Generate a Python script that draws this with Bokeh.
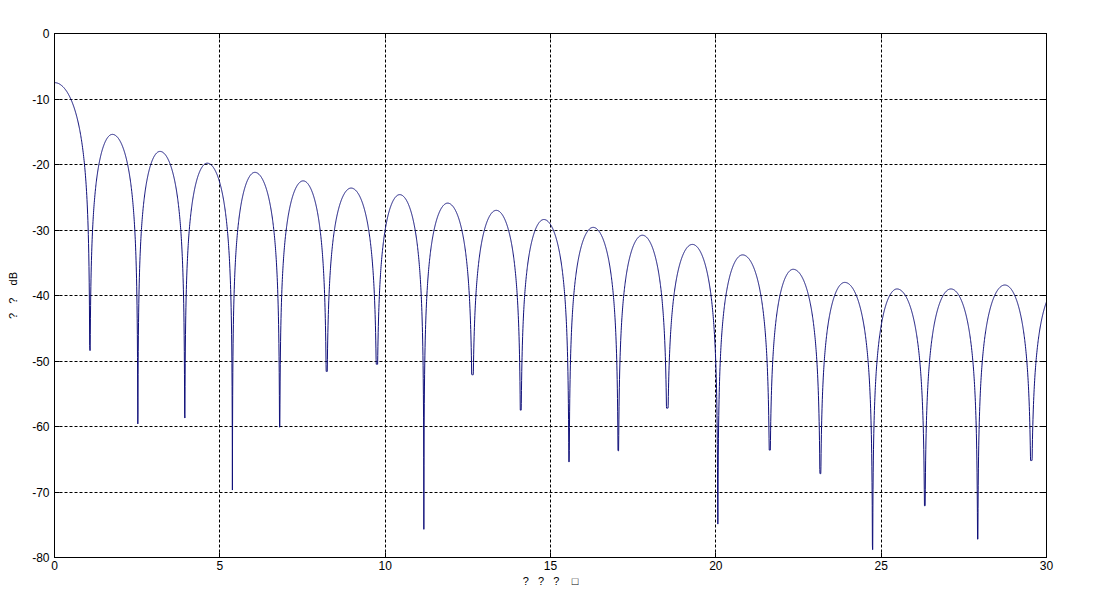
import numpy as np
from bokeh.plotting import figure
from bokeh.models import LinearAxis, Range1d, FixedTicker, ColumnDataSource
from bokeh.embed import file_html
from bokeh.resources import INLINE

# ---- data ----
start_x = 0.0
start_db = -7.5
null_x = [1.07, 2.52, 3.94, 5.38, 6.81, 8.23, 9.75, 11.17, 12.64, 14.10,
          15.56, 17.05, 18.53, 20.06, 21.63, 23.16, 24.74, 26.32, 27.92, 29.54, 31.16]
null_db = [-48.4, -59.6, -58.7, -69.7, -60.1, -51.6, -50.5, -75.7, -52.1, -57.5,
           -65.4, -63.7, -57.2, -74.9, -63.6, -67.2, -78.8, -72.1, -77.2, -65.2, -60.0]
peak_x = [1.75, 3.19, 4.62, 6.06, 7.52, 8.97, 10.44, 11.89, 13.36, 14.80,
          16.29, 17.78, 19.29, 20.81, 22.34, 23.90, 25.48, 27.11, 28.74, 30.35]
peak_db = [-15.4, -18.0, -19.8, -21.2, -22.5, -23.6, -24.6, -25.9, -27.0, -28.4,
           -29.6, -30.8, -32.2, -33.8, -36.0, -38.0, -39.0, -39.0, -38.4, -38.8]
x_ticks = [0, 5, 10, 15, 20, 25, 30]
y_ticks = [-80, -70, -60, -50, -40, -30, -20, -10, 0]
NB = "\u00a0"
x_label = "?" + NB * 3 + "?" + NB * 3 + "?" + NB * 4 + "\u25a1"
y_label = "?" + NB * 3 + "?" + NB * 4 + "dB"

# ---- build the trace: each lobe spans null -> peak -> null ----
N = 160
xs, ys = [], []

def half(a, b, t0, t1, pk, floor):
    xx = np.linspace(a, b, N)
    t = t0 + (t1 - t0) * (xx - a) / (b - a)
    s = np.abs(np.sin(np.pi * t))
    with np.errstate(divide="ignore"):
        yy = pk + 20 * np.log10(s)
    yy = np.maximum(yy, floor)
    return xx, yy

# main lobe (peak at x=0) down to first null
xx, yy = half(start_x, null_x[0], 0.5, 1.0, start_db, null_db[0])
xs.append(xx); ys.append(yy)
for i in range(len(peak_x)):
    a, b = null_x[i], null_x[i + 1]
    p = peak_x[i]
    xx, yy = half(a, p, 0.0, 0.5, peak_db[i], null_db[i])
    xs.append(xx[1:]); ys.append(yy[1:])
    xx, yy = half(p, b, 0.5, 1.0, peak_db[i], null_db[i + 1])
    xs.append(xx[1:]); ys.append(yy[1:])
x = np.concatenate(xs)
y = np.concatenate(ys)
m = x <= 30.0
src = ColumnDataSource(data=dict(x=x[m], y=y[m]))

FONT = "Liberation Sans"
FS = "12px"

p = figure(width=1096, height=589, output_backend="svg", toolbar_location=None,
           x_range=Range1d(0, 30), y_range=Range1d(-80, 0),
           min_border_left=54, min_border_right=50, min_border_top=33, min_border_bottom=31,
           background_fill_color="white", border_fill_color="white")
p.outline_line_color = "black"
p.outline_line_alpha = 1.0
p.outline_line_width = 1

p.line("x", "y", source=src, line_color="#10107a", line_width=1)

for ax, ticks in ((p.xaxis[0], x_ticks), (p.yaxis[0], y_ticks)):
    ax.ticker = FixedTicker(ticks=ticks)
    ax.major_label_overrides = {t: str(t) for t in ticks}
    ax.minor_tick_line_color = None
    ax.major_tick_in = 5
    ax.major_tick_out = 0
    ax.axis_line_color = "black"
    ax.major_tick_line_color = "black"
    ax.major_label_text_font = FONT
    ax.major_label_text_font_size = FS
    ax.major_label_text_color = "black"
    ax.axis_label_text_font = FONT
    ax.axis_label_text_font_size = "11px"
    ax.axis_label_text_font_style = "normal"
    ax.axis_label_text_color = "black"
p.xaxis[0].axis_label = x_label
p.yaxis[0].axis_label = y_label
p.xaxis[0].major_label_standoff = 3
p.xaxis[0].axis_label_standoff = 2
p.yaxis[0].major_label_standoff = 5
p.yaxis[0].axis_label_standoff = 10

for loc, ticks in (("above", x_ticks), ("right", y_ticks)):
    ax = LinearAxis(ticker=FixedTicker(ticks=ticks))
    ax.major_label_overrides = {t: "" for t in ticks}
    ax.major_label_text_color = None
    ax.major_label_standoff = 0
    ax.minor_tick_line_color = None
    ax.major_tick_in = 5
    ax.major_tick_out = 0
    ax.axis_line_color = "black"
    ax.major_tick_line_color = "black"
    p.add_layout(ax, loc)

for g in (p.xgrid[0], p.ygrid[0]):
    g.grid_line_color = "black"
    g.grid_line_alpha = 1.0
    g.grid_line_dash = "3 2"
    g.grid_line_width = 1
p.xgrid[0].ticker = FixedTicker(ticks=x_ticks)
p.ygrid[0].ticker = FixedTicker(ticks=y_ticks)

open("out.html", "w").write(file_html(p, INLINE))
